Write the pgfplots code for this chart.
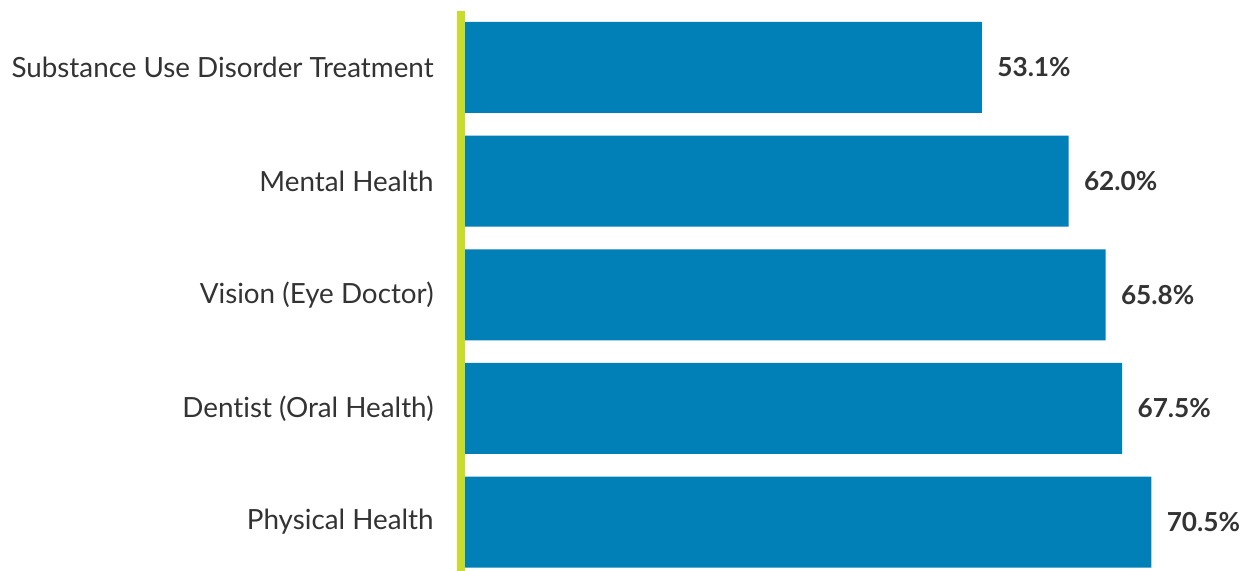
\documentclass[border=0pt]{standalone}
\usepackage{pgfplots}
\pgfplotsset{compat=1.18}
\usepackage{fontspec}
\setmainfont{Lato}[Ligatures=NoCommon]
\definecolor{barblue}{HTML}{0080B6}
\definecolor{limeline}{HTML}{C9DC2B}
\definecolor{txt}{HTML}{333333}
\begin{document}
\begin{tikzpicture}
\begin{axis}[
  xbar, scale only axis,
  width=394.5bp, height=285.5bp,
  xmin=0, xmax=81.04,
  ymin=-0.431, ymax=4.594,
  axis line style={draw=none},
  xtick=\empty,
  ytick={0,1,2,3,4},
  yticklabels={Physical Health, Dentist (Oral Health), Vision (Eye Doctor), Mental Health\hspace{3bp}, Substance Use Disorder Treatment},
  major tick length=0pt,
  tick style={draw=none},
  yticklabel style={font=\fontsize{13.9bp}{16bp}\selectfont, text=txt, anchor=east, inner sep=0pt, xshift=-15.5bp},
  bar width=45.5bp,
  point meta=x,
  /pgf/number format/assume math mode=true,
  nodes near coords={\pgfmathprintnumber[fixed,precision=1,fixed zerofill,assume math mode=true]{\pgfplotspointmeta}\%},
  nodes near coords style={font=\fontsize{13.1bp}{16bp}\selectfont\bfseries, text=txt, anchor=west, inner sep=0pt, xshift=7.5bp},
]
\addplot[fill=barblue, draw=none] coordinates {(70.5,0) (67.5,1) (65.8,2) (62.0,3) (53.1,4)};
\end{axis}
\draw[limeline, line width=4bp] (-2bp,0) -- (-2bp,280bp);
\pgfresetboundingbox
\useasboundingbox (-232.5bp,0) rectangle (394.5bp,285.5bp);
\end{tikzpicture}
\end{document}
